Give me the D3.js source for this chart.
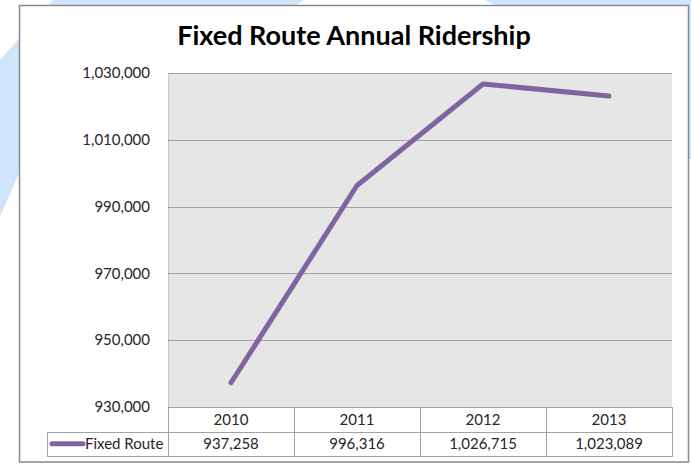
<!DOCTYPE html>
<html>
<head>
<meta charset="utf-8">
<script src="https://cdn.jsdelivr.net/npm/d3@7"></script>
<style>
  body { margin: 0; background: #fff; }
  svg text { font-family: Lato, "Open Sans", sans-serif; fill: #262626; }
</style>
</head>
<body>
<svg id="chart" width="691" height="464"></svg>
<script>
// data
const years = ['2010', '2011', '2012', '2013']
const ridership = [937258, 996316, 1026715, 1023089]
const seriesName = 'Fixed Route'
const yTicks = [930000, 950000, 970000, 990000, 1010000, 1030000]
const title = 'Fixed Route Annual Ridership'

const svg = d3.select('#chart')
const fmt = d3.format(',')

// light blue slide decoration behind the chart box
svg.append('path')
  .attr('d', 'M53,0 L304,0 L19,173 L0,217 L0,60 Z')
  .style('fill', '#cfe5fc')
svg.append('path')
  .attr('d', 'M485,0 L691,0 L691,160 L600,60 Z')
  .style('fill', '#cfe5fc')

// chart box
svg.append('rect')
  .attr('x', 19.5).attr('y', 5.5)
  .attr('width', 669).attr('height', 456.5)
  .style('fill', '#fff')
  .style('stroke', '#8a8a8a')
  .style('stroke-width', 1.5)

const plot = { left: 168, right: 672, top: 73, bottom: 407 }
const rowH = 24.5

const x = d3.scaleBand()
  .domain(years)
  .range([plot.left, plot.right])
  .padding(0)

const y = d3.scaleLinear()
  .domain([930000, 1030000])
  .range([plot.bottom, plot.top])

// plot area
svg.append('rect')
  .attr('x', plot.left).attr('y', plot.top)
  .attr('width', plot.right - plot.left)
  .attr('height', plot.bottom - plot.top)
  .style('fill', '#e6e6e6')
  .style('stroke', 'none')

svg.append('line')
  .attr('x1', plot.left + 0.5).attr('x2', plot.left + 0.5)
  .attr('y1', plot.top).attr('y2', plot.bottom)
  .style('stroke', '#c8c8c8')

// gridlines
svg.selectAll('line.grid')
  .data(yTicks)
  .enter().append('line')
  .attr('class', 'grid')
  .attr('x1', plot.left).attr('x2', plot.right)
  .attr('y1', d => Math.round(y(d)) + 0.5)
  .attr('y2', d => Math.round(y(d)) + 0.5)
  .style('stroke', '#a3a3a3')
  .style('stroke-width', 1)

// y tick labels
svg.selectAll('text.ytick')
  .data(yTicks)
  .enter().append('text')
  .attr('class', 'ytick')
  .attr('x', 150)
  .attr('y', d => y(d))
  .attr('dy', '0.35em')
  .attr('text-anchor', 'end')
  .style('font-size', '15px')
  .text(d => fmt(d))

// title
svg.append('text')
  .attr('x', 354)
  .attr('y', 45)
  .attr('text-anchor', 'middle')
  .style('font-size', '27px')
  .style('font-weight', 'bold')
  .style('fill', '#000')
  .text(title)

// data table below the plot
const tableStroke = '#a3a3a3'
const row1 = plot.bottom
const row2 = plot.bottom + rowH
const row3 = plot.bottom + rowH * 2
const legendLeft = 47

const tbl = svg.append('g').style('stroke', tableStroke).style('stroke-width', 1)
tbl.append('line').attr('x1', legendLeft).attr('x2', plot.right)
  .attr('y1', Math.round(row2) + 0.5).attr('y2', Math.round(row2) + 0.5)
tbl.append('line').attr('x1', legendLeft).attr('x2', plot.right)
  .attr('y1', Math.round(row3) + 0.5).attr('y2', Math.round(row3) + 0.5)
tbl.append('line').attr('x1', legendLeft + 0.5).attr('x2', legendLeft + 0.5)
  .attr('y1', Math.round(row2)).attr('y2', Math.round(row3) + 1)
tbl.selectAll('line.col')
  .data(years.concat(['end']))
  .enter().append('line')
  .attr('class', 'col')
  .attr('x1', d => Math.round(d === 'end' ? plot.right : x(d)) + 0.5)
  .attr('x2', d => Math.round(d === 'end' ? plot.right : x(d)) + 0.5)
  .attr('y1', row1).attr('y2', Math.round(row3) + 1)

svg.selectAll('text.year')
  .data(years)
  .enter().append('text')
  .attr('class', 'year')
  .attr('x', d => x(d) + x.bandwidth() / 2)
  .attr('y', (row1 + row2) / 2)
  .attr('dy', '0.35em')
  .attr('text-anchor', 'middle')
  .style('font-size', '15px')
  .text(d => d)

svg.selectAll('text.value')
  .data(ridership)
  .enter().append('text')
  .attr('class', 'value')
  .attr('x', (d, i) => x(years[i]) + x.bandwidth() / 2)
  .attr('y', (row2 + row3) / 2)
  .attr('dy', '0.35em')
  .attr('text-anchor', 'middle')
  .style('font-size', '15px')
  .text(d => fmt(d))

// legend key in the table
const lineColor = '#8064a2'
svg.append('line')
  .attr('x1', 52).attr('x2', 83)
  .attr('y1', (row2 + row3) / 2).attr('y2', (row2 + row3) / 2)
  .style('stroke', lineColor)
  .style('stroke-width', 5)
  .style('stroke-linecap', 'round')

svg.append('text')
  .attr('x', 85)
  .attr('y', (row2 + row3) / 2)
  .attr('dy', '0.35em')
  .style('font-size', '15px')
  .text(seriesName)

// the series line
const line = d3.line()
  .x((d, i) => x(years[i]) + x.bandwidth() / 2)
  .y(d => y(d))

svg.append('path')
  .datum(ridership)
  .attr('d', line)
  .style('fill', 'none')
  .style('stroke', lineColor)
  .style('stroke-width', 5)
  .style('stroke-linejoin', 'round')
  .style('stroke-linecap', 'round')
</script>
</body>
</html>
